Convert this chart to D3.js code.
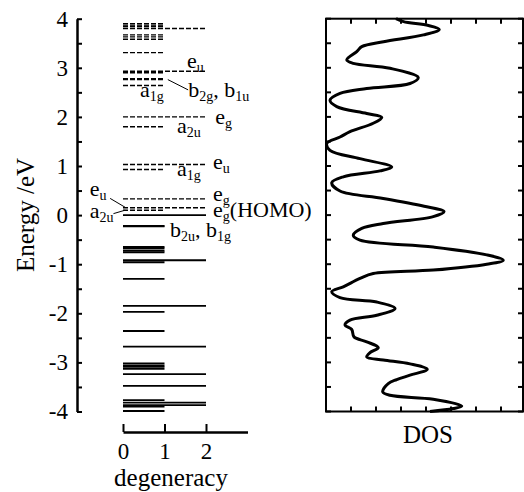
<!doctype html>
<html>
<head>
  <script src="https://d3js.org/d3.v7.min.js" charset="utf-8"></script>
  <style>
    body { margin: 0; background: #fff; }
    svg text { font-family: "Liberation Serif", "DejaVu Serif", serif; }
  </style>
</head>
<body>
  <div id="viz"></div>
  <script>
    var serif = "Liberation Serif, DejaVu Serif, serif";

    // orbital energies (eV) and their degeneracy
    var levelEnergy = [3.90, 3.87, 3.84, 3.80, 3.67, 3.63, 3.58, 3.31,
                       2.93, 2.90, 2.78, 2.76, 2.64, 2.00, 1.80, 1.03, 0.93,
                       0.33, 0.15, 0.10, 0.00, -0.22, -0.23,
                       -0.65, -0.68, -0.73, -0.76, -0.92, -0.96, -1.30,
                       -1.85, -1.97, -2.36, -2.68, -3.02, -3.06, -3.09, -3.13,
                       -3.24, -3.48, -3.77, -3.82, -3.87, -3.90, -3.99];
    var levelDegeneracy = [1, 1, 1, 2, 1, 1, 1, 1,
                           2, 1, 1, 1, 1, 2, 1, 2, 1,
                           2, 2, 1, 2, 1, 1,
                           1, 1, 1, 1, 2, 1, 1,
                           2, 1, 1, 2, 1, 1, 1, 1,
                           2, 2, 1, 2, 2, 1, 1];

    // symmetry labels: letter, subscript, optional second label, tail, position (degeneracy, energy)
    var labelMain  = ["e", "a", "b", "e", "a", "e", "a", "e", "e", "b", "e", "a"];
    var labelSub   = ["u", "1g", "2g", "g", "2u", "u", "1g", "g", "g", "2u", "u", "2u"];
    var labelMain2 = ["", "", "b", "", "", "", "", "", "", "b", "", ""];
    var labelSub2  = ["", "", "1u", "", "", "", "", "", "", "1g", "", ""];
    var labelTail  = ["", "", "", "", "", "", "", "", "(HOMO)", "", "", ""];
    var labelDeg   = [1.54, 0.41, 1.57, 2.22, 1.30, 2.17, 1.30, 2.17, 2.17, 1.13, -0.80, -0.80];
    var labelE     = [2.99, 2.40, 2.40, 1.85, 1.67, 0.94, 0.79, 0.28, -0.03, -0.45, 0.38, -0.06];

    // leader lines [deg1, E1, deg2, E2]
    var leaders = [[1.08, 2.76, 1.57, 2.55],
                   [-0.31, 0.34, 0.05, 0.16],
                   [-0.23, 0.03, 0.05, 0.10]];

    // density of states
    var dosEnergy = [4.00, 3.94, 3.86, 3.78, 3.67, 3.53, 3.43, 3.33, 3.16, 3.09,
                     2.99, 2.80, 2.68, 2.58, 2.48, 2.34, 2.21,
                     2.07, 1.99, 1.87, 1.70, 1.59, 1.46, 1.32,
                     1.15, 0.98, 0.90, 0.78, 0.66, 0.49,
                     0.34, 0.17, 0.07, -0.03, -0.17, -0.27, -0.41, -0.51,
                     -0.65, -0.81, -0.92, -1.00, -1.12, -1.19, -1.29, -1.46, -1.56, -1.68,
                     -1.77, -1.90, -2.04, -2.14, -2.24, -2.33, -2.48,
                     -2.58, -2.70, -2.80, -2.89, -2.95, -3.03, -3.14, -3.26, -3.35, -3.43,
                     -3.60, -3.67, -3.75, -3.89, -3.94, -4.00];
    var dosValue  = [2.80, 3.10, 4.10, 4.53, 3.90, 2.30, 1.43, 1.23, 0.83, 1.09,
                     2.56, 3.69, 3.36, 1.63, 0.56, 0.16, 0.43,
                     1.63, 2.23, 1.89, 0.96, 0.56, 0.03, 0.16,
                     1.36, 2.63, 2.16, 0.69, 0.23, 0.56,
                     2.29, 4.03, 4.72, 4.29, 2.29, 1.43, 1.09, 1.36,
                     4.29, 6.43, 7.09, 6.43, 4.29, 1.89, 1.36, 0.69, 0.23, 0.56,
                     2.03, 2.76, 2.03, 0.96, 0.76, 1.03, 1.12,
                     1.63, 2.09, 1.76, 1.63, 2.29, 3.36, 4.05, 3.36, 2.83, 2.49,
                     2.27, 2.56, 4.29, 5.43, 5.09, 4.16];

    var energyTicks = d3.range(-4, 4.01, 0.5);
    var degTicks = [0, 1, 2];
    var dosTicks = [1, 2, 3, 4, 5, 6, 7];

    var width = 524, height = 492;
    var svg = d3.select("#viz").append("svg")
        .attr("width", width).attr("height", height);

    var y = d3.scaleLinear().domain([-4, 4]).range([411.5, 18.7]);
    var xDeg = d3.scaleLinear().domain([0, 3]).range([123, 247.5]);
    var xDos = d3.scaleLinear().domain([0, 7.88]).range([326, 523]);

    // energy axis
    var yAxis = svg.append("g")
        .attr("transform", "translate(77,0)")
        .call(d3.axisLeft(y).tickValues(energyTicks).tickSizeInner(-5).tickSizeOuter(0).tickPadding(9)
              .tickFormat(function(d) { return Number.isInteger(d) ? String(d) : ""; }));
    yAxis.attr("font-family", serif).attr("font-size", 23);
    yAxis.select(".domain").attr("stroke-width", 2.5);
    yAxis.selectAll(".tick line").attr("stroke-width", 2);

    svg.append("text")
       .attr("text-anchor", "middle")
       .attr("transform", "translate(34,215) rotate(-90)")
       .attr("font-size", 25)
       .text("Energy /eV");

    // degeneracy axis
    var xAxis = svg.append("g")
        .attr("transform", "translate(0,432)")
        .call(d3.axisBottom(xDeg).tickValues(degTicks).tickSizeInner(-8).tickSizeOuter(0).tickPadding(11)
              .tickFormat(d3.format("d")));
    xAxis.attr("font-family", serif).attr("font-size", 23);
    xAxis.select(".domain").attr("stroke-width", 2.5);
    xAxis.selectAll(".tick line").attr("stroke-width", 2);

    svg.append("text")
       .attr("text-anchor", "middle")
       .attr("x", 171).attr("y", 486)
       .attr("font-size", 25)
       .text("degeneracy");

    // energy levels: dashed above HOMO, solid for occupied
    var levels = levelEnergy.map(function(e, i) { return {e: e, g: levelDegeneracy[i]}; });
    svg.selectAll(".level").data(levels).enter().append("line")
       .attr("class", "level")
       .attr("x1", xDeg(0))
       .attr("x2", function(d) { return xDeg(d.g); })
       .attr("y1", function(d) { return y(d.e); })
       .attr("y2", function(d) { return y(d.e); })
       .attr("stroke", "#000")
       .attr("stroke-width", function(d) { return d.e > 0 ? 1.4 : 1.8; })
       .attr("stroke-dasharray", function(d) { return d.e > 0 ? "5,2" : null; });

    // leader lines
    svg.selectAll(".leader").data(leaders).enter().append("line")
       .attr("x1", function(d) { return xDeg(d[0]); })
       .attr("y1", function(d) { return y(d[1]); })
       .attr("x2", function(d) { return xDeg(d[2]); })
       .attr("y2", function(d) { return y(d[3]); })
       .attr("stroke", "#000").attr("stroke-width", 1);

    // symmetry labels
    labelMain.forEach(function(m, i) {
      var t = svg.append("text")
          .attr("x", xDeg(labelDeg[i])).attr("y", y(labelE[i]))
          .attr("font-size", 22);
      t.append("tspan").text(m);
      t.append("tspan").attr("dy", 4).attr("font-size", 14).text(labelSub[i]);
      if (labelMain2[i]) {
        t.append("tspan").attr("dy", -4).text(", " + labelMain2[i]);
        t.append("tspan").attr("dy", 4).attr("font-size", 14).text(labelSub2[i]);
      }
      if (labelTail[i]) {
        t.append("tspan").attr("dy", -4).text(labelTail[i]);
      }
    });

    // DOS panel
    var boxTop = y(4), boxBottom = y(-4), boxLeft = xDos(0), boxRight = xDos(7.88);
    svg.append("rect")
       .attr("x", boxLeft).attr("y", boxTop)
       .attr("width", boxRight - boxLeft).attr("height", boxBottom - boxTop)
       .attr("fill", "none").attr("stroke", "#000").attr("stroke-width", 2);

    var tickLen = 5;
    svg.selectAll(".ltick").data(energyTicks).enter().append("line")
       .attr("x1", boxLeft).attr("x2", boxLeft + tickLen)
       .attr("y1", function(d) { return y(d); }).attr("y2", function(d) { return y(d); })
       .attr("stroke", "#000").attr("stroke-width", 2);
    svg.selectAll(".rtick").data(energyTicks).enter().append("line")
       .attr("x1", boxRight).attr("x2", boxRight - tickLen)
       .attr("y1", function(d) { return y(d); }).attr("y2", function(d) { return y(d); })
       .attr("stroke", "#000").attr("stroke-width", 2);
    svg.selectAll(".ttick").data(dosTicks).enter().append("line")
       .attr("x1", function(d) { return xDos(d); }).attr("x2", function(d) { return xDos(d); })
       .attr("y1", boxTop).attr("y2", boxTop + tickLen)
       .attr("stroke", "#000").attr("stroke-width", 2);
    svg.selectAll(".btick").data(dosTicks).enter().append("line")
       .attr("x1", function(d) { return xDos(d); }).attr("x2", function(d) { return xDos(d); })
       .attr("y1", boxBottom).attr("y2", boxBottom - tickLen)
       .attr("stroke", "#000").attr("stroke-width", 2);

    var dos = dosEnergy.map(function(e, i) { return [dosValue[i], e]; });
    var line = d3.line()
        .x(function(d) { return xDos(d[0]); })
        .y(function(d) { return y(d[1]); })
        .curve(d3.curveCatmullRom.alpha(0.5));
    svg.append("path")
       .datum(dos)
       .attr("d", line)
       .attr("fill", "none").attr("stroke", "#000").attr("stroke-width", 3)
       .attr("stroke-linejoin", "round");

    svg.append("text")
       .attr("text-anchor", "middle")
       .attr("x", 428).attr("y", 443)
       .attr("font-size", 25)
       .text("DOS");
  </script>
</body>
</html>
